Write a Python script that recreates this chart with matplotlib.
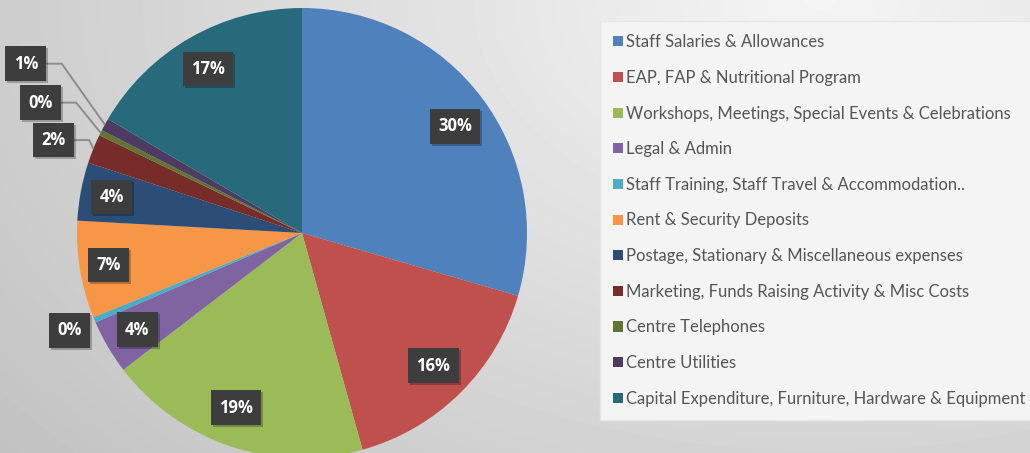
import numpy as np
import matplotlib
matplotlib.use("Agg")
from matplotlib import pyplot as plt
from matplotlib import transforms

# Budget breakdown (percent)
categories = [
    "Staff Salaries & Allowances",
    "EAP, FAP & Nutritional Program",
    "Workshops, Meetings, Special Events & Celebrations",
    "Legal & Admin",
    "Staff Training, Staff Travel & Accommodation..",
    "Rent & Security Deposits",
    "Postage, Stationary & Miscellaneous expenses",
    "Marketing, Funds Raising Activity & Misc Costs",
    "Centre Telephones",
    "Centre Utilities",
    "Capital Expenditure, Furniture, Hardware & Equipment",
]
shares = [29.6, 16.2, 19.0, 3.9, 0.4, 7.0, 4.2, 2.1, 0.4, 0.9, 16.6]
colors = ["#4F81BD", "#C0504D", "#9BBB59", "#8064A2", "#4BACC6", "#F79646",
          "#2C4D75", "#772C2A", "#5F7530", "#4D3B62", "#276A7C"]
# where each label sits: fraction of the radius, and a small angle nudge (deg)
label_dist = [0.83, 0.83, 0.83, 0.85, 1.12, 0.87, 0.86, 1.18, 1.30, 1.44, 0.84]
label_turn = [-2.0, 0, -2.2, 0, 0, 0, 0, 1.5, 0, -2.7, 0]
leader = [False, False, False, False, False, False, False, True, True, True, False]

W, H = 1030, 453
fig = plt.figure(figsize=(W / 100, H / 100), dpi=100)
ax = fig.add_axes([0, 0, 1, 1])

# soft grey background, lighter towards the upper right
yy, xx = np.mgrid[0:H, 0:W]
rr = np.sqrt(((xx - 820) / 900.0) ** 2 + ((yy - H) / 600.0) ** 2)
bg = np.clip(0.96 - 0.17 * rr, 0, 1)
ax.imshow(bg, cmap="gray", vmin=0, vmax=1, extent=(0, W, 0, H), origin="lower",
          zorder=0, aspect="auto")

cx, cy, R = 302, 220, 225
wedges, _ = ax.pie(shares, colors=colors, startangle=90, counterclock=False,
                   center=(cx, cy), radius=R, frame=True,
                   wedgeprops=dict(linewidth=0))
ax.set_xlim(0, W)
ax.set_ylim(0, H)
ax.axis("off")

total = sum(shares)
shadow = transforms.offset_copy(ax.transData, fig=fig, x=2, y=-2, units="dots")
for w, v, d, turn, lead in zip(wedges, shares, label_dist, label_turn, leader):
    mid = np.deg2rad((w.theta1 + w.theta2) / 2)
    ang = mid + np.deg2rad(turn)
    tx = cx + d * R * np.cos(ang)
    ty = cy + d * R * np.sin(ang)
    txt = "%d%%" % round(v / total * 100)
    if lead:
        ex = cx + R * np.cos(mid)
        ey = cy + R * np.sin(mid)
        kx = tx + 36
        ax.plot([tx + 20, kx, ex], [ty, ty, ey], color="#8c8c8c", lw=1.4,
                zorder=3, solid_capstyle="butt")
    for tr, fc in ((shadow, (0, 0, 0, 0.25)), (ax.transData, "#3d3d3d")):
        ax.text(tx, ty, txt, transform=tr, ha="center", va="center",
                fontsize=12, fontweight="bold", family="Open Sans",
                color="white" if fc == "#3d3d3d" else (0, 0, 0, 0),
                zorder=4, bbox=dict(boxstyle="square,pad=0.5", fc=fc,
                                    ec="none"))

leg = fig.legend(wedges, categories, loc="upper left",
                 bbox_to_anchor=(600 / W, 1 - 21 / H), frameon=True,
                 prop=dict(family="Lato", size=12),
                 handlelength=0.55, handleheight=0.55, handletextpad=0.2,
                 labelspacing=1.178, borderpad=0.8, borderaxespad=0,
                 fancybox=False)
leg.get_frame().set_facecolor("#f4f4f4")
leg.get_frame().set_edgecolor("#e6e6e6")
leg.get_frame().set_alpha(1)
for t in leg.get_texts():
    t.set_color("#555555")

fig.savefig("out.png", dpi=100)
